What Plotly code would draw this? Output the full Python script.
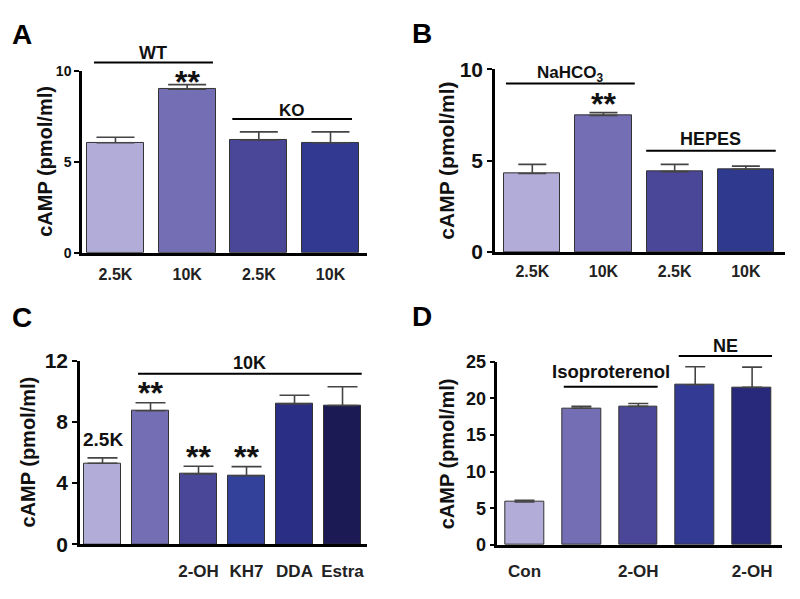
import plotly.graph_objects as go

W, H = 800, 599
OFF = 8  # page body margin offsets the figure by 8px

# ---------------- data ----------------
a_labels = ["2.5K", "10K", "2.5K", "10K"]
a_values = [6.05, 9.0, 6.2, 6.05]
a_errors = [0.3, 0.25, 0.45, 0.6]

b_labels = ["2.5K", "10K", "2.5K", "10K"]
b_values = [4.3, 7.47, 4.4, 4.53]
b_errors = [0.5, 0.16, 0.4, 0.17]

c_labels = ["", "", "2-OH", "KH7", "DDA", "Estra"]
c_values = [5.3, 8.73, 4.6, 4.48, 9.17, 9.07]
c_errors = [0.35, 0.52, 0.5, 0.6, 0.57, 1.23]

d_labels = ["Con", "", "2-OH", "", "2-OH"]
d_values = [5.86, 18.65, 18.9, 21.85, 21.5]
d_errors = [0.25, 0.25, 0.4, 2.45, 2.75]

colors_a = ["#b1acd8", "#746fb4", "#4a4798", "#313a90"]
colors_b = ["#b1acd8", "#746fb4", "#4a4798", "#2f3a8e"]
colors_c = ["#b1acd8", "#746fb4", "#4a4798", "#33419a", "#2a2f85", "#1c1a55"]
colors_d = ["#b1acd8", "#746fb4", "#4a4798", "#323a94", "#28297a"]

FONT = "Liberation Sans, Arial, sans-serif"


def py(p):
    return 1 - (p - OFF) / H


def px(p):
    return (p - OFF) / W


fig = go.Figure()

panels = [
    dict(ax="", labels=a_labels, values=a_values, errors=a_errors, colors=colors_a,
         xd=(82, 367), yp=(61, 250), yr=[0, 10], tv=[0, 5, 10], xr=[-0.467, 3.509],
         bw=0.795, cap=19, tf=14, xf=16, ttl=20, ttlx=45, xpad=5),
    dict(ax="2", labels=b_labels, values=b_values, errors=b_errors, colors=colors_b,
         xd=(495, 785), yp=(59.3, 249.3), yr=[0, 10], tv=[0, 5, 10], xr=[-0.524, 3.55],
         bw=0.79, cap=14, tf=21, xf=16, ttl=21, ttlx=447, xpad=3),
    dict(ax="3", labels=c_labels, values=c_values, errors=c_errors, colors=colors_c,
         xd=(80, 367), yp=(362.3, 553.3), yr=[0, 12], tv=[0, 4, 8, 12], xr=[-0.469, 5.51],
         bw=0.79, cap=15, tf=21, xf=17, ttl=20, ttlx=28, xpad=9),
    dict(ax="4", labels=d_labels, values=d_values, errors=d_errors, colors=colors_d,
         xd=(497.3, 781.7), yp=(363.3, 554), yr=[0, 25], tv=[0, 5, 10, 15, 20, 25],
         xr=[-0.478, 4.52], bw=0.685, cap=10, tf=18, xf=17, ttl=20, ttlx=447, xpad=9),
]

for p in panels:
    n = len(p["values"])
    xs = list(range(n))
    fig.add_trace(go.Bar(
        x=xs, y=p["values"], width=p["bw"],
        marker=dict(color=p["colors"], line=dict(color="#333333", width=1)),
        error_y=dict(type="data", symmetric=False, array=p["errors"],
                     arrayminus=[0] * n, color="#444444", thickness=1.6, width=p["cap"]),
        xaxis="x" + p["ax"], yaxis="y" + p["ax"], showlegend=False,
        hoverinfo="skip",
    ))
    xa = "xaxis" + p["ax"]
    ya = "yaxis" + p["ax"]
    fig.layout[xa] = dict(
        domain=[px(p["xd"][0]), px(p["xd"][1])], range=p["xr"],
        anchor="y" + p["ax"], tickmode="array", tickvals=xs, ticktext=p["labels"],
        showline=True, linecolor="black", linewidth=2.5,
        ticks="outside", ticklen=p["xpad"], tickcolor="rgba(0,0,0,0)",
        showgrid=False, zeroline=False, fixedrange=True,
        tickfont=dict(family=FONT, size=p["xf"], color="#222222", weight="bold"),
    )
    fig.layout[ya] = dict(
        domain=[py(p["yp"][1]), py(p["yp"][0])], range=p["yr"],
        anchor="x" + p["ax"], tickmode="array", tickvals=p["tv"],
        showline=True, linecolor="black", linewidth=2.5, ticks="outside",
        ticklen=5, tickwidth=2, tickcolor="black",
        showgrid=False, zeroline=False, fixedrange=True,
        tickfont=dict(family=FONT, size=p["tf"], color="#111111", weight="bold"),
    )
    fig.add_annotation(
        text="cAMP (pmol/ml)", textangle=-90, xref="paper", yref="paper",
        x=px(p["ttlx"]), y=py((p["yp"][0] + p["yp"][1]) / 2), showarrow=False,
        font=dict(family=FONT, size=p["ttl"], color="#111111", weight="bold"),
        xanchor="center", yanchor="middle",
    )

for letter, cx, cy in [("A", 21.5, 23), ("B", 422.5, 22), ("C", 22, 317.5), ("D", 422, 316)]:
    fig.add_annotation(text=letter, xref="paper", yref="paper", x=px(cx), y=py(cy),
                       showarrow=False, xanchor="center", yanchor="middle",
                       font=dict(family=FONT, size=28, color="black", weight="bold"))


def bracket(ax, x0, x1, ypix):
    fig.add_shape(type="line", xref="x" + ax, yref="paper", x0=x0, x1=x1,
                  y0=py(ypix), y1=py(ypix), line=dict(color="black", width=2))


def label(ax, x, ypix, text, size=18):
    fig.add_annotation(text=text, xref="x" + ax, yref="paper", x=x, y=py(ypix),
                       showarrow=False, xanchor="center", yanchor="middle",
                       font=dict(family=FONT, size=size, color="#111111", weight="bold"))


STAR = 32
bracket("", -0.3, 1.36, 52.3)
label("", 0.53, 42, "WT", 18)
label("", 1, 72, "**", STAR)
bracket("", 1.63, 3.3, 111)
label("", 2.46, 102, "KO", 17)

bracket("2", -0.37, 1.44, 74)
label("2", 0.53, 64, "NaHCO<sub>3</sub>", 17)
label("2", 1, 95, "**", STAR)
bracket("2", 1.6, 3.42, 144)
label("2", 2.51, 132, "HEPES", 18)

bracket("3", 0.74, 5.4, 376)
label("3", 3.07, 364.5, "10K", 18)
label("3", 0, 444, "2.5K", 19)
label("3", 1, 396, "**", STAR)
label("3", 2, 462, "**", STAR)
label("3", 3, 462, "**", STAR)

bracket("4", 0.69, 2.34, 389.3)
label("4", 1.52, 374, "Isoproterenol", 18.5)
bracket("4", 2.71, 4.35, 357.3)
label("4", 3.53, 347, "NE", 18)

fig.update_layout(
    width=W, height=H, margin=dict(l=0, r=0, t=0, b=0),
    paper_bgcolor="white", plot_bgcolor="white", bargap=0,
    font=dict(family=FONT),
)

fig.write_html("out.html")
